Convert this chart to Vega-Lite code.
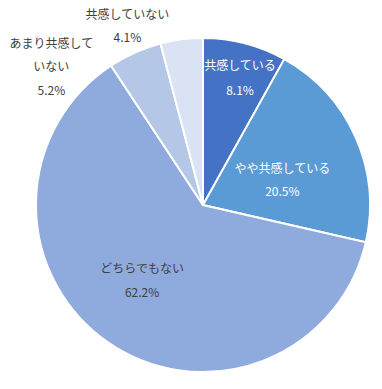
{
  "$schema": "https://vega.github.io/schema/vega-lite/v6.json",
  "width": 358,
  "height": 368,
  "autosize": {"type": "none"},
  "padding": {"left": 24, "top": 21, "right": 0, "bottom": 0},
  "background": "white",
  "config": {"view": {"stroke": null}},
  "data": {
    "values": [
      {"idx": 1, "cat": "共感している", "value": 8.1, "label": "共感している\n8.1%"},
      {"idx": 2, "cat": "やや共感している", "value": 20.5, "label": "やや共感している\n20.5%"},
      {"idx": 3, "cat": "どちらでもない", "value": 62.2, "label": "どちらでもない\n62.2%"},
      {"idx": 4, "cat": "あまり共感していない", "value": 5.2, "label": "あまり共感して\nいない\n5.2%"},
      {"idx": 5, "cat": "共感していない", "value": 4.1, "label": "共感していない\n4.1%"}
    ]
  },
  "encoding": {
    "theta": {"field": "value", "type": "quantitative", "stack": true},
    "order": {"field": "idx", "type": "quantitative"}
  },
  "layer": [
    {
      "mark": {"type": "arc", "outerRadius": 167, "stroke": "white", "strokeWidth": 2},
      "encoding": {
        "color": {
          "field": "cat", "type": "nominal", "legend": null,
          "scale": {
            "domain": ["共感している", "やや共感している", "どちらでもない", "あまり共感していない", "共感していない"],
            "range": ["#4472C4", "#5B9BD5", "#8FAADC", "#B4C7E7", "#DAE3F3"]
          }
        }
      }
    },
    {
      "mark": {"type": "text", "radius": 132, "thetaOffset": 0.03, "dy": -12.5, "lineBreak": "\n", "lineHeight": 25, "font": "Noto Sans CJK JP", "fontSize": 12, "fill": "white"},
      "encoding": {"text": {"condition": {"test": "datum.cat === '共感している'", "field": "label"}, "value": ""}}
    },
    {
      "mark": {"type": "text", "radius": 83, "thetaOffset": 0.123, "dy": -11.5, "lineBreak": "\n", "lineHeight": 23, "font": "Noto Sans CJK JP", "fontSize": 12, "fill": "white"},
      "encoding": {"text": {"condition": {"test": "datum.cat === 'やや共感している'", "field": "label"}, "value": ""}}
    },
    {
      "mark": {"type": "text", "radius": 97, "thetaOffset": 0.073, "dy": -12, "lineBreak": "\n", "lineHeight": 24, "font": "Noto Sans CJK JP", "fontSize": 12, "fill": "#404040"},
      "encoding": {"text": {"condition": {"test": "datum.cat === 'どちらでもない'", "field": "label"}, "value": ""}}
    },
    {
      "mark": {"type": "text", "radius": 205, "thetaOffset": -0.412, "dy": -23.5, "lineBreak": "\n", "lineHeight": 23.5, "font": "Noto Sans CJK JP", "fontSize": 12, "fill": "#404040"},
      "encoding": {"text": {"condition": {"test": "datum.cat === 'あまり共感していない'", "field": "label"}, "value": ""}}
    },
    {
      "mark": {"type": "text", "radius": 194, "thetaOffset": -0.272, "dy": -11.5, "lineBreak": "\n", "lineHeight": 23, "font": "Noto Sans CJK JP", "fontSize": 12, "fill": "#404040"},
      "encoding": {"text": {"condition": {"test": "datum.cat === '共感していない'", "field": "label"}, "value": ""}}
    }
  ]
}
